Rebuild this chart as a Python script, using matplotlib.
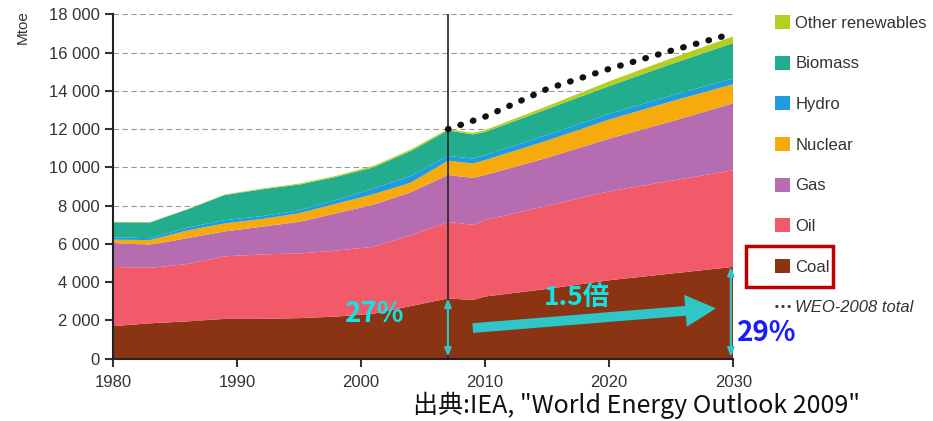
import matplotlib.pyplot as plt
import matplotlib.ticker as mticker
from matplotlib.patches import Patch, Rectangle
from matplotlib.lines import Line2D

plt.rcParams['font.family'] = ['Liberation Sans', 'DejaVu Sans']

# Primary energy demand, Mtoe
years = [1980, 1983, 1986, 1989, 1992, 1995, 1998, 2001, 2004, 2007,
         2009, 2010, 2015, 2020, 2025, 2030]
coal = [1700, 1850, 1950, 2080, 2080, 2120, 2200, 2350, 2750, 3150,
        3070, 3250, 3650, 4100, 4450, 4800]
oil = [3100, 2900, 3000, 3270, 3370, 3380, 3450, 3500, 3700, 4000,
       3930, 4000, 4350, 4650, 4850, 5050]
gas = [1250, 1200, 1350, 1300, 1450, 1650, 1950, 2200, 2250, 2450,
       2450, 2350, 2500, 2750, 3100, 3500]
nuclear = [170, 250, 400, 420, 400, 450, 500, 550, 500, 750,
           750, 780, 900, 1000, 1050, 1000]
hydro = [120, 100, 150, 170, 150, 150, 200, 300, 350, 250,
         260, 260, 300, 300, 300, 300]
biomass = [790, 820, 950, 1310, 1400, 1350, 1200, 1100, 1300, 1330,
           1260, 1210, 1350, 1450, 1650, 1850]
other = [20, 20, 20, 30, 40, 50, 60, 80, 80, 70,
         80, 100, 150, 250, 300, 350]

weo_years = [2007, 2010, 2015, 2020, 2025, 2030]
weo_total = [12000, 12650, 14100, 15150, 16100, 17000]

labels = ['Coal', 'Oil', 'Gas', 'Nuclear', 'Hydro', 'Biomass', 'Other renewables']
colors = ['#8a3414', '#f25a6a', '#b66cb0', '#f7aa0c', '#1f9ce0', '#21ad8e', '#b4cf22']

fig = plt.figure(figsize=(9.33, 4.21), dpi=100)
ax = fig.add_axes([0.121, 0.148, 0.665, 0.818])

ax.stackplot(years, coal, oil, gas, nuclear, hydro, biomass, other,
             colors=colors, zorder=2)
ax.plot(weo_years, weo_total, linestyle=(0, (0.1, 2.0)), color='#111111',
        linewidth=4.5, dash_capstyle='round', zorder=4)
ax.axvline(2007, color='#222222', linewidth=1.2, zorder=3)

ax.set_xlim(1980, 2030)
ax.set_ylim(0, 18000)
ax.set_xticks(range(1980, 2031, 10))
ax.set_yticks(range(0, 18001, 2000))
ax.yaxis.set_major_formatter(mticker.FuncFormatter(lambda v, p: f'{v:,.0f}'.replace(',', ' ')))
ax.tick_params(axis='both', labelsize=12, colors='#333333', width=1.5, length=6)
ax.tick_params(axis='x', pad=6)
ax.grid(axis='y', linestyle=(0, (5, 3)), color='#999999', linewidth=0.8, zorder=0)
ax.set_axisbelow(True)
for s in ['top', 'right']:
    ax.spines[s].set_visible(False)
for s in ['left', 'bottom']:
    ax.spines[s].set_linewidth(1.5)
    ax.spines[s].set_color('#222222')

fig.text(0.024, 0.935, 'Mtoe', rotation=90, fontsize=11, color='#333333',
         ha='center', va='center')

# legend (top item first)
handles = [Patch(facecolor=c, edgecolor='none') for c in colors[::-1]]
handles.append(Line2D([], [], color='#333333', linestyle=(0, (1, 1.2)), linewidth=2))
leg = fig.legend(handles, labels[::-1] + ['WEO-2008 total'], loc='upper left',
                 bbox_to_anchor=(0.815, 1.0), frameon=False, fontsize=12,
                 handlelength=0.9, handleheight=0.9, handletextpad=0.3,
                 labelspacing=1.5)
for t in leg.get_texts():
    t.set_color('#333333')
leg.get_texts()[-1].set_style('italic')

fig.add_artist(Rectangle((0.8, 0.318), 0.093, 0.098, transform=fig.transFigure,
                         fill=False, edgecolor='#c00000', linewidth=2.5))

# annotations
cyan = '#2fc6c8'
ax.annotate('', xy=(2007, 3150), xytext=(2007, 100),
            arrowprops=dict(arrowstyle='<|-|>,head_length=0.5,head_width=0.2',
                            color=cyan, lw=1.5, shrinkA=0, shrinkB=0), zorder=5)
ax.annotate('', xy=(2029.8, 4800), xytext=(2029.8, 100),
            arrowprops=dict(arrowstyle='<|-|>,head_length=0.5,head_width=0.2',
                            color=cyan, lw=1.5, shrinkA=0, shrinkB=0),
            annotation_clip=False, zorder=5)
ax.annotate('', xy=(2028.6, 2630), xytext=(2009, 1600),
            arrowprops=dict(arrowstyle='simple,head_length=1.1,head_width=1.15,tail_width=0.35',
                            mutation_scale=20, color=cyan, lw=0, shrinkA=0, shrinkB=0),
            zorder=5)

cjk = ['Noto Sans CJK JP', 'DejaVu Sans']
ax.text(2001.1, 2320, '27%', color='#0ee6e6', fontsize=20, fontweight='bold',
        family=cjk, ha='center', va='center', zorder=6)
ax.text(2017.4, 3200, '1.5倍', color='#0ee6e6', fontsize=19, fontweight='bold',
        family=cjk, ha='center', va='center', zorder=6)
ax.text(2032.7, 1340, '29%', color='#1a1aff', fontsize=20, fontweight='bold',
        family=cjk, ha='center', va='center', zorder=6, clip_on=False)

fig.text(0.443, 0.037, '出典:IEA, "World Energy Outlook 2009"', fontsize=18,
         family=cjk, color='#111111', ha='left', va='center')

fig.savefig('out.png', dpi=100)
